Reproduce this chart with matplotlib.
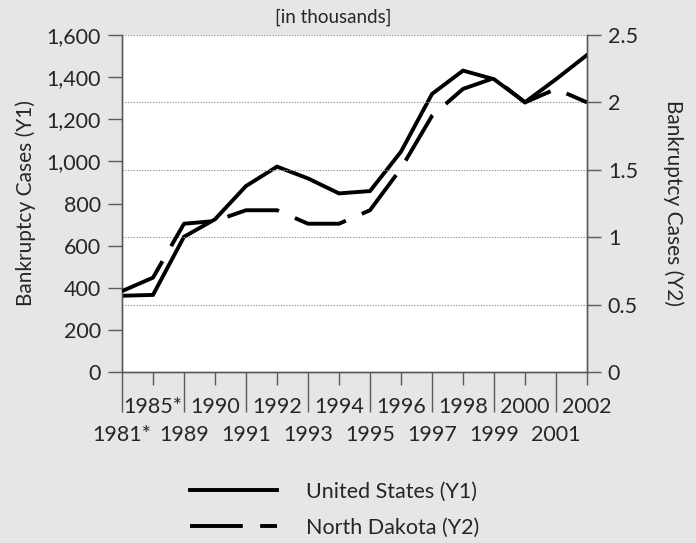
import matplotlib
matplotlib.use("Agg")
import matplotlib.pyplot as plt
from matplotlib.ticker import FuncFormatter, FixedLocator

# ---- data ----
YEARS = ["1981*", "1985*", "1989", "1990", "1991", "1992", "1993", "1994",
         "1995", "1996", "1997", "1998", "1999", "2000", "2001", "2002"]
US_CASES = [362, 366, 642, 725, 883, 975, 919, 848,
            859, 1046, 1320, 1431, 1390, 1281, 1390, 1505]          # thousands (Y1)
ND_CASES = [0.60, 0.70, 1.10, 1.12, 1.20, 1.20, 1.10, 1.10,
            1.20, 1.51, 1.90, 2.10, 2.18, 2.00, 2.10, 2.00]          # thousands (Y2)
Y1_TICKS = [0, 200, 400, 600, 800, 1000, 1200, 1400, 1600]
Y2_TICKS = [0, 0.5, 1, 1.5, 2, 2.5]

BG = "#e6e6e6"
AXIS = "#5a5a5a"
TXT = "#262626"
FONT = ["Lato", "DejaVu Sans"]

plt.rcParams["font.family"] = FONT
plt.rcParams["lines.scale_dashes"] = False

W, H = 696, 543
fig = plt.figure(figsize=(W / 100, H / 100), dpi=100, facecolor=BG)
ax = fig.add_axes([122 / W, 1 - 372 / H, (587 - 122) / W, (372 - 35) / H])
ax2 = ax.twinx()

x = list(range(len(YEARS)))
(us_line,) = ax.plot(x, US_CASES, color="black", lw=2.8, solid_joinstyle="miter",
                     label="United States (Y1)", zorder=3)
(nd_line,) = ax2.plot(x, ND_CASES, color="black", lw=2.8, dashes=(38, 12.5),
                      solid_joinstyle="miter", label="North Dakota (Y2)", zorder=3)

ax.set_facecolor("white")
ax.set_xlim(0, len(YEARS) - 1)
ax.set_ylim(0, 1600)
ax2.set_ylim(0, 2.5)

for a in (ax, ax2):
    for side in ("left", "right", "bottom"):
        a.spines[side].set_color(AXIS)
        a.spines[side].set_linewidth(1.0)
    a.spines["top"].set_visible(False)

# y axes
ax.set_yticks(Y1_TICKS)
ax.yaxis.set_major_formatter(FuncFormatter(lambda v, p: f"{int(v):,}"))
ax.tick_params(axis="y", direction="out", length=10, width=1, color=AXIS,
               labelsize=15.5, pad=5, labelcolor=TXT)
ax2.set_yticks(Y2_TICKS)
ax2.yaxis.set_major_formatter(FuncFormatter(lambda v, p: f"{v:g}"))
ax2.tick_params(axis="y", direction="out", length=10, width=1, color=AXIS,
                labelsize=15.5, pad=5, labelcolor=TXT)
ax2.yaxis.grid(True, linestyle=(0, (1, 1)), color="#9a9a9a", linewidth=0.8)
ax2.set_axisbelow(True)

# x axis: long ticks + lower labels on even positions, short ticks + upper labels on odd
ax.xaxis.set_major_locator(FixedLocator(x[0::2]))
ax.set_xticklabels(YEARS[0::2])
ax.xaxis.set_minor_locator(FixedLocator(x[1::2]))
ax.set_xticklabels(YEARS[1::2], minor=True)
ax.tick_params(axis="x", which="major", direction="out", length=29, width=1,
               color=AXIS, labelsize=15.5, pad=9.5, labelcolor=TXT)
ax.tick_params(axis="x", which="minor", direction="out", length=9.5, width=1,
               color=AXIS, labelsize=15.5, pad=8.5, labelcolor=TXT)

ax.set_ylabel("Bankruptcy Cases (Y1)", fontsize=15, color=TXT, labelpad=8)
ax2.set_ylabel("Bankruptcy Cases (Y2)", fontsize=15, color=TXT,
               rotation=270, labelpad=33)
fig.text(333 / W, 1 - 17 / H, "[in thousands]", ha="center", va="center",
         fontsize=13.5, color=TXT)

fig.legend(handles=[us_line, nd_line], loc="upper left",
           bbox_to_anchor=(190 / W, 1 - 482 / H), frameon=False,
           fontsize=15.5, handlelength=4.05, handletextpad=1.35,
           labelspacing=0.72, borderpad=0, borderaxespad=0, labelcolor=TXT)

fig.savefig("out.png", dpi=100, facecolor=BG)
